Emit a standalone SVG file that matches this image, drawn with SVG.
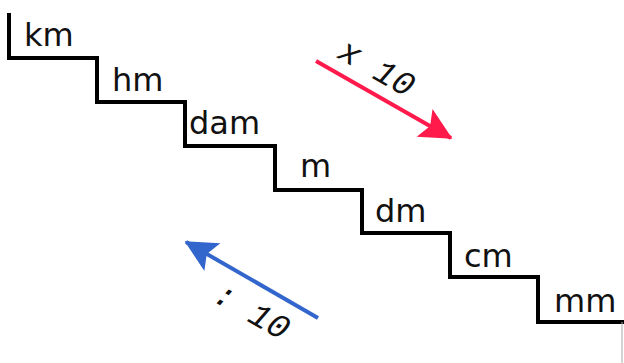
<svg xmlns="http://www.w3.org/2000/svg" width="624" height="363" viewBox="0 0 624 363">
  <style>
    .lbl { font-family: "DejaVu Sans", Verdana, sans-serif; font-size: 32px; fill: #111; }
    .op { font-family: "Liberation Mono", "Courier New", monospace; font-size: 34px; font-style: italic; fill: #111; }
    .stair { fill: none; stroke: #000; stroke-width: 4; stroke-linejoin: miter; stroke-linecap: butt; }
  </style>
  <defs>
    <marker id="redHead" viewBox="0 0 10 10" refX="9.5" refY="5" markerWidth="10" markerHeight="8" markerUnits="strokeWidth" orient="auto">
      <path d="M0,0 L10,5 L0,10 L2,5 Z" fill="#ff1a4b"/>
    </marker>
    <marker id="blueHead" viewBox="0 0 10 10" refX="9.5" refY="5" markerWidth="10" markerHeight="8" markerUnits="strokeWidth" orient="auto">
      <path d="M0,0 L10,5 L0,10 L2,5 Z" fill="#3366cc"/>
    </marker>
  </defs>
  <rect width="624" height="363" fill="#fff"/>
  <g id="stairs">
    <path class="stair" d="M9,13 V58 H97 V102 H185 V146 H275 V190 H362 V233 H450 V277 H538 V322 H624"/>
    <line x1="622" y1="322" x2="622" y2="363" stroke="#aaa" stroke-width="1"/>
  </g>
  <g id="km"><text class="lbl" x="24" y="46">km</text></g>
  <g id="hm"><text class="lbl" x="112" y="91">hm</text></g>
  <g id="dam"><text class="lbl" x="189" y="134">dam</text></g>
  <g id="m"><text class="lbl" x="300" y="177">m</text></g>
  <g id="dm"><text class="lbl" x="375" y="222">dm</text></g>
  <g id="cm"><text class="lbl" x="464" y="267">cm</text></g>
  <g id="mm"><text class="lbl" x="554" y="312">mm</text></g>
  <g id="connectors">
    <line x1="316" y1="61" x2="451" y2="138" stroke="#ff1a4b" stroke-width="4" marker-end="url(#redHead)"/>
    <line x1="318" y1="318" x2="186" y2="242" stroke="#3366cc" stroke-width="4" marker-end="url(#blueHead)"/>
  </g>
  <g id="label-x10"><text class="op" transform="translate(336,57) rotate(30)">x 10</text></g>
  <g id="label-div10"><text class="op" transform="translate(211,300) rotate(30)">: 10</text></g>
</svg>
